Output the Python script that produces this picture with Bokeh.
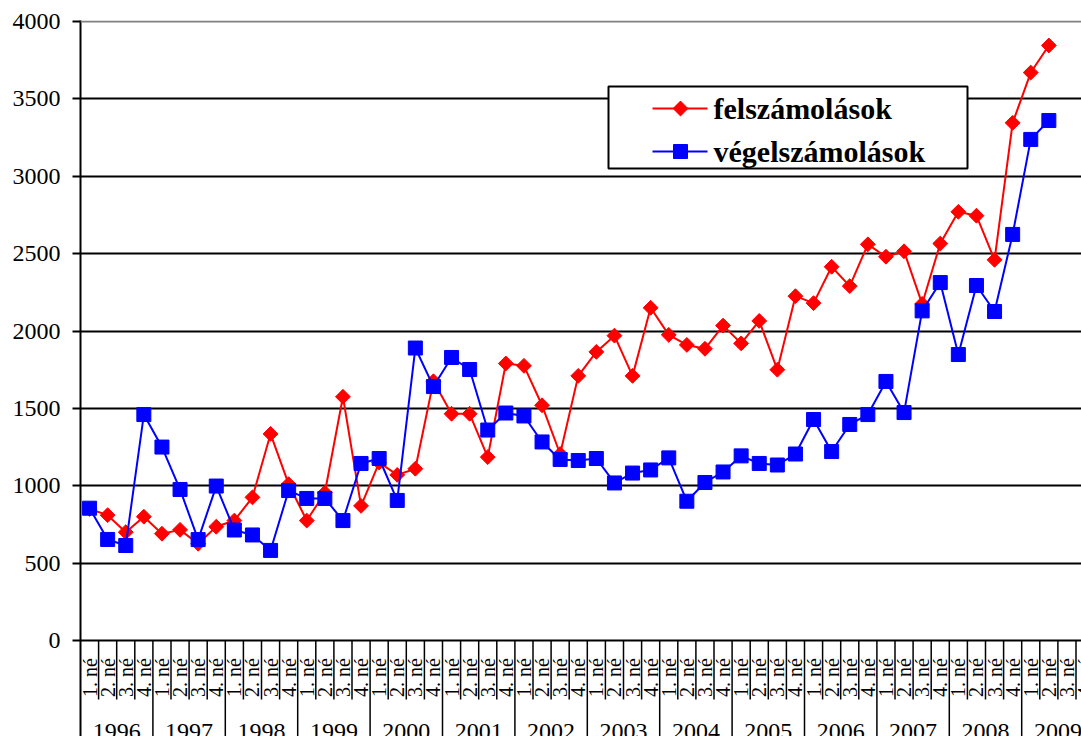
import numpy as np
from bokeh.plotting import figure
from bokeh.models import ColumnDataSource, FixedTicker, Range1d, Span
from bokeh.core.properties import value
from bokeh.embed import file_html
from bokeh.resources import INLINE

# ---------------- data ----------------
years = [str(y) for y in range(1996, 2010)]
quarter_names = ["1. né", "2. né", "3. né", "4. né"]

felszamolasok = [
    850, 810, 700, 800,     # 1996
    690, 715, 625, 735,     # 1997
    775, 925, 1335, 1010,   # 1998
    775, 955, 1575, 870,    # 1999
    1150, 1070, 1110, 1675, # 2000
    1465, 1465, 1185, 1790, # 2001
    1775, 1520, 1205, 1710, # 2002
    1865, 1970, 1710, 2150, # 2003
    1975, 1910, 1885, 2035, # 2004
    1920, 2065, 1750, 2225, # 2005
    2180, 2415, 2290, 2560, # 2006
    2480, 2515, 2175, 2565, # 2007
    2770, 2745, 2460, 3345, # 2008
    3670, 3845,             # 2009
]
vegelszamolasok = [
    855, 653, 614, 1460,
    1250, 976, 652, 998,
    714, 682, 582, 969,
    918, 918, 775, 1144,
    1176, 905, 1890, 1641,
    1829, 1751, 1360, 1470,
    1451, 1283, 1170, 1163,
    1176, 1018, 1082, 1102,
    1180, 900, 1021, 1089,
    1193, 1144, 1134, 1205,
    1428, 1221, 1396, 1460,
    1674, 1473, 2130, 2313,
    1848, 2294, 2126, 2624,
    3238, 3360,
]
y_ticks = [0, 500, 1000, 1500, 2000, 2500, 3000, 3500, 4000]
series_names = ["felszámolások", "végelszámolások"]

# ---------------- layout constants ----------------
FONT_NAME = "Liberation Serif"
FONT = value(FONT_NAME)
PX_Y = 4000 / 619.0          # data units per pixel (vertical)
PX_X = 18.1                  # pixels per quarter
n_q = len(years) * 4
x_end = 1001 / PX_X          # the chart is cut on the right, as in the reference

p = figure(width=1081, height=736, output_backend="svg", toolbar_location=None,
           x_axis_location=None,
           x_range=Range1d(0, x_end),
           y_range=Range1d(-96 * PX_Y, 4000 + 1 * PX_Y),
           min_border_left=80, min_border_right=0, min_border_top=20, min_border_bottom=0)
p.outline_line_color = None
p.background_fill_color = "white"
p.border_fill_color = "white"

# y axis
p.yaxis.ticker = FixedTicker(ticks=y_ticks)
p.yaxis.minor_tick_line_color = None
p.yaxis.major_tick_out = 8
p.yaxis.major_tick_in = 0
p.yaxis.major_tick_line_width = 2
p.yaxis.major_tick_line_color = "black"
p.yaxis.axis_line_width = 2
p.yaxis.axis_line_color = "black"
p.yaxis.major_label_text_font = FONT_NAME
p.yaxis.major_label_text_font_size = "24px"
p.yaxis.major_label_text_color = "black"
p.yaxis.major_label_standoff = 12

# grid
p.xgrid.visible = False
p.ygrid.ticker = FixedTicker(ticks=y_ticks[:-1])
p.ygrid.grid_line_color = "black"
p.ygrid.grid_line_width = 2
p.add_layout(Span(location=4000, dimension="width", line_color="#808080", line_width=2))

# category axis drawn below the zero line
q_bottom = -(699 - 640) * PX_Y
bottom = -96 * PX_Y
qx = [k for k in range(1, n_q + 1) if k % 4 != 0]
p.segment(x0=qx, y0=[0] * len(qx), x1=qx, y1=[q_bottom] * len(qx),
          line_color="black", line_width=1.5)
yx = [k for k in range(4, n_q + 1, 4)]
p.segment(x0=yx, y0=[0] * len(yx), x1=yx, y1=[bottom] * len(yx),
          line_color="black", line_width=1.5)

qsrc = ColumnDataSource(dict(
    x=[i + 0.5 for i in range(n_q)],
    y=[-(677 - 640) * PX_Y] * n_q,
    t=[quarter_names[i % 4] for i in range(n_q)],
))
p.text(x="x", y="y", text="t", source=qsrc, angle=np.pi / 2,
       text_font=FONT, text_font_size="20px", text_align="center",
       text_baseline="middle", text_color="black")

ysrc = ColumnDataSource(dict(
    x=[4 * i + 2 for i in range(len(years))],
    y=[-(731 - 640) * PX_Y] * len(years),
    t=years,
))
p.text(x="x", y="y", text="t", source=ysrc, text_font=FONT,
       text_font_size="24px", text_align="center", text_baseline="middle",
       text_color="black")

# series
xs_f = [i + 0.5 for i in range(len(felszamolasok))]
xs_v = [i + 0.5 for i in range(len(vegelszamolasok))]
p.line(xs_f, felszamolasok, line_color="#ff0000", line_width=2)
p.scatter(xs_f, felszamolasok, marker="square", angle=np.pi / 4, size=10.5,
          fill_color="#ff0000", line_color="#ff0000")
p.line(xs_v, vegelszamolasok, line_color="#0000ff", line_width=2)
p.scatter(xs_v, vegelszamolasok, marker="square", size=14,
          fill_color="#0000ff", line_color="#0000ff")

# legend (drawn by hand to match the original box)
def dx(px):
    return (px - 80) / PX_X

def dy(py):
    return (640 - py) * PX_Y

p.quad(left=[dx(608)], right=[dx(967)], top=[dy(86)], bottom=[dy(168)],
       fill_color="white", line_color="black", line_width=2)
rows = [dy(108), dy(151)]
colors = ["#ff0000", "#0000ff"]
p.segment(x0=[dx(652)] * 2, y0=rows, x1=[dx(707)] * 2, y1=rows,
          line_color=colors, line_width=2)
p.scatter([dx(680)], [rows[0]], marker="square", angle=np.pi / 4, size=10.5,
          fill_color="#ff0000", line_color="#ff0000")
p.scatter([dx(680)], [rows[1]], marker="square", size=14,
          fill_color="#0000ff", line_color="#0000ff")
p.text(x=[dx(713)] * 2, y=rows, text=series_names, text_font=FONT,
       text_font_size="30px", text_font_style="bold", text_align="left",
       text_baseline="middle", text_color="black")

open("out.html", "w").write(file_html(p, INLINE))
